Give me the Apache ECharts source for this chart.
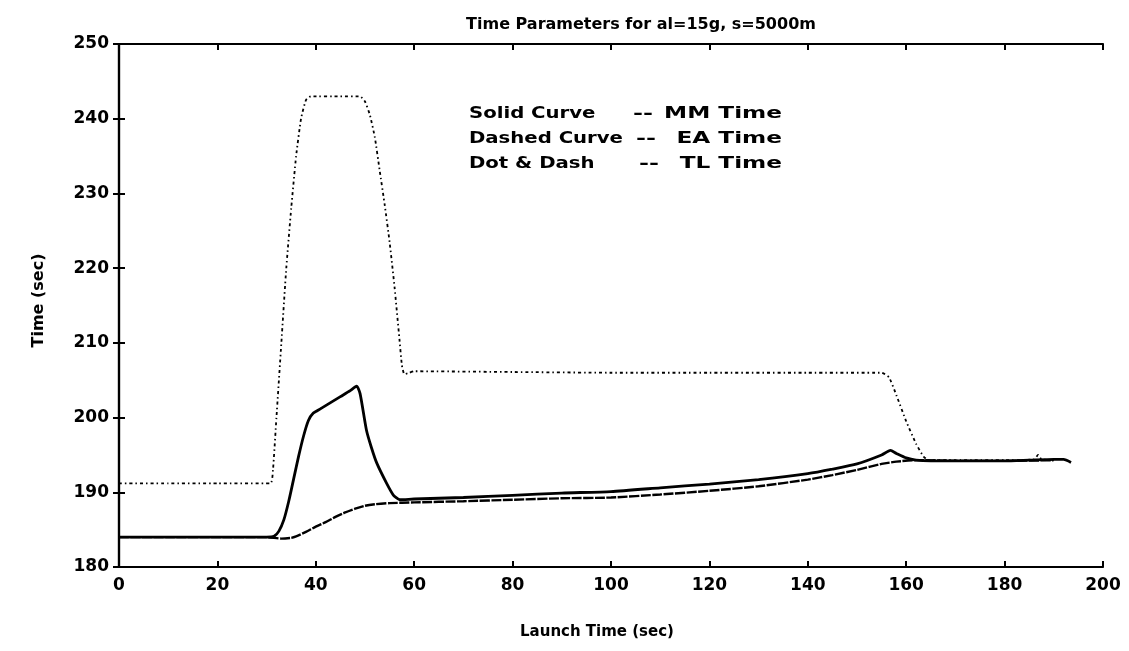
<!DOCTYPE html>
<html>
<head>
<meta charset="utf-8">
<script src="https://cdn.jsdelivr.net/npm/echarts@6/dist/echarts.min.js"></script>
<style>
html,body{margin:0;padding:0;background:#fff;}
#chart{width:1129px;height:651px;}
</style>
</head>
<body>
<div id="chart"></div>
<script>
// ---- data ----
const titleText = "Time Parameters for al=15g, s=5000m";
const xAxisName = "Launch Time (sec)";
const yAxisName = "Time (sec)";
const xTicks = [0, 20, 40, 60, 80, 100, 120, 140, 160, 180, 200];
const yTicks = [180, 190, 200, 210, 220, 230, 240, 250];

const legendLeft = ["Solid Curve", "Dashed Curve", "Dot & Dash"];
const legendDash = ["--", "--", "--"];
const legendRight = ["MM Time", "EA Time", "TL Time"];

// MM Time (solid curve)
const mmLaunch = [0, 10, 20, 30, 31.5, 32.5, 33.5, 34.5, 35.5, 36.5, 37.5, 38.5, 39.5, 41, 43, 45, 47, 48.3, 49, 50.3, 51.3, 52.4, 54.4, 55.8, 57.1, 60, 70, 80, 90, 100, 110, 120, 130, 140, 145, 150, 155, 156.8, 158, 160, 162, 165, 170, 180, 185, 190, 192, 193.5];
const mmTime = [184, 184, 184, 184, 184.1, 184.8, 186.3, 188.8, 191.8, 194.8, 197.5, 199.6, 200.6, 201.2, 202.0, 202.8, 203.6, 204.2, 203.2, 198.3, 196.0, 193.9, 191.2, 189.6, 189.0, 189.1, 189.3, 189.6, 189.9, 190.1, 190.6, 191.1, 191.7, 192.5, 193.1, 193.8, 195.0, 195.6, 195.2, 194.6, 194.3, 194.2, 194.2, 194.2, 194.3, 194.4, 194.4, 194.0];

// EA Time (dashed curve)
const eaLaunch = [0, 10, 20, 30, 33, 35, 36, 38, 40, 42, 44, 46, 48, 50, 52, 55, 60, 70, 80, 90, 100, 110, 120, 130, 140, 145, 150, 155, 158, 162, 170, 180, 190];
const eaTime = [184, 184, 184, 184, 183.8, 183.9, 184.1, 184.7, 185.4, 186.0, 186.7, 187.3, 187.8, 188.2, 188.4, 188.55, 188.65, 188.8, 189.0, 189.2, 189.3, 189.7, 190.2, 190.8, 191.7, 192.3, 193.0, 193.8, 194.1, 194.3, 194.2, 194.2, 194.3];

// TL Time (dot & dash curve)
const tlLaunch = [0, 10, 20, 30.8, 31.3, 32, 33, 34, 35, 36, 37, 38, 39, 45, 49, 50, 51, 52, 53, 54, 55, 56, 57, 57.5, 58, 59, 60, 80, 100, 120, 140, 155, 156.5, 158, 160, 162, 163.5, 164.5, 170, 180, 186, 186.8, 187.5, 190];
const tlTime = [191.2, 191.2, 191.2, 191.2, 193, 200, 210, 220, 228, 235, 240, 242.5, 243, 243, 243, 242.3, 240.5, 237.5, 233, 228.5, 223.5, 217.5, 210.5, 207, 205.8, 206, 206.2, 206.1, 206, 206, 206, 206, 205.4, 203, 199.5, 196.5, 194.8, 194.3, 194.3, 194.3, 194.4, 195.0, 194.4, 194.3];

const zip = (a, b) => a.map((v, i) => [v, b[i]]);

const FONT = "DejaVu Sans";
const chart = echarts.init(document.getElementById('chart'), null, {renderer: 'canvas'});

const GRID = {left: 119, right: 26, top: 44, bottom: 84};

const baseAxisLine = {show: true, lineStyle: {color: '#000', width: 2.2}};
const tickIn = {show: true, inside: true, length: 6, lineStyle: {color: '#000', width: 2}};
const txt = (extra) => Object.assign({fontFamily: FONT, fontWeight: 'bold', fill: '#000'}, extra);

const legendGraphics = [];
legendLeft.forEach((t, i) => {
  legendGraphics.push({type: 'text', x: 469, y: 114 + i * 25, scaleX: 1.23,
    style: txt({text: t, fontSize: 16, textVerticalAlign: 'middle', textAlign: 'left'})});
  legendGraphics.push({type: 'text', x: 633 + i * 3, y: 114 + i * 25, scaleX: 1.5,
    style: txt({text: legendDash[i], fontSize: 16, textVerticalAlign: 'middle', textAlign: 'left'})});
  legendGraphics.push({type: 'text', x: 782, y: 114 + i * 25, scaleX: 1.45,
    style: txt({text: legendRight[i], fontSize: 16, textVerticalAlign: 'middle', textAlign: 'right'})});
});

const option = {
  backgroundColor: '#fff',
  animation: false,
  title: {
    text: titleText,
    left: 636, top: 12, textAlign: 'center',
    textStyle: {fontFamily: FONT, fontSize: 16, fontWeight: 'bold', color: '#000'}
  },
  grid: GRID,
  xAxis: [{
    type: 'value', min: 0, max: 200, interval: 20, position: 'bottom',
    axisLine: baseAxisLine, axisTick: tickIn, splitLine: {show: false},
    axisLabel: {color: '#000', fontFamily: FONT, fontSize: 17, fontWeight: 'bold', margin: 10,
      formatter: v => xTicks.includes(v) ? String(v) : ''},
    name: xAxisName, nameLocation: 'middle', nameGap: 58,
    nameTextStyle: {color: '#000', fontFamily: FONT, fontSize: 15, fontWeight: 'bold', padding: [0, 28, 0, 0]}
  }, {
    type: 'value', min: 0, max: 200, interval: 20, position: 'top',
    axisLine: baseAxisLine, axisTick: tickIn, splitLine: {show: false},
    axisLabel: {show: false}
  }],
  yAxis: [{
    type: 'value', min: 180, max: 250, interval: 10, position: 'left',
    axisLine: baseAxisLine, axisTick: tickIn, splitLine: {show: false},
    axisLabel: {color: '#000', fontFamily: FONT, fontSize: 17, fontWeight: 'bold', margin: 10,
      formatter: v => yTicks.includes(v) ? String(v) : ''},
    name: yAxisName, nameLocation: 'middle', nameGap: 72, nameRotate: 90,
    nameTextStyle: {color: '#000', fontFamily: FONT, fontSize: 16, fontWeight: 'bold', padding: [0, 0, 0, 10]}
  }, {
    type: 'value', min: 180, max: 250, interval: 10, position: 'right',
    axisLine: baseAxisLine, axisTick: tickIn, splitLine: {show: false},
    axisLabel: {show: false}
  }],
  series: [{
    name: 'MM Time', type: 'line', xAxisIndex: 0, yAxisIndex: 0,
    data: zip(mmLaunch, mmTime), showSymbol: false, smooth: 0.2,
    lineStyle: {color: '#000', width: 2.8, type: 'solid'}, z: 3
  }, {
    name: 'EA Time', type: 'line', xAxisIndex: 0, yAxisIndex: 0,
    data: zip(eaLaunch, eaTime), showSymbol: false, smooth: 0.2,
    lineStyle: {color: '#000', width: 2.4, type: [10, 1.5]}, z: 2
  }, {
    name: 'TL Time', type: 'line', xAxisIndex: 0, yAxisIndex: 0,
    data: zip(tlLaunch, tlTime), showSymbol: false, smooth: 0.15,
    lineStyle: {color: '#000', width: 1.8, type: [3, 3, 1.5, 3]}, z: 1
  }],
  graphic: legendGraphics
};
chart.setOption(option);
</script>
</body>
</html>
